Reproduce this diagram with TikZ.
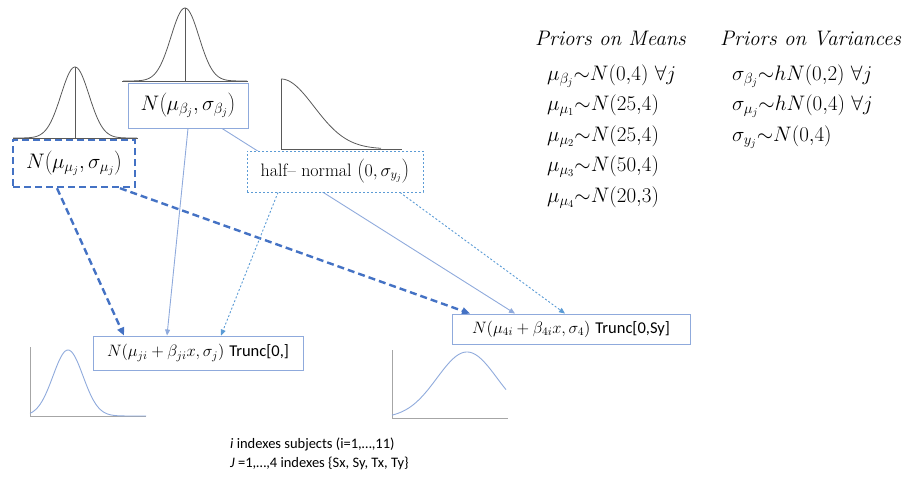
\RequirePackage{fix-cm}
\documentclass[tikz,border=0pt]{standalone}
\usepackage{fontspec}
\newfontfamily\calibri{Carlito}
\usetikzlibrary{arrows.meta,backgrounds}
\definecolor{BoxBlue}{HTML}{8FAADC}
\definecolor{HyperBlue}{HTML}{4472C4}
\definecolor{DotBlue}{HTML}{5B9BD5}
\definecolor{CurveGrey}{HTML}{595959}
\definecolor{AxisGrey}{HTML}{A6A6A6}
\newcommand\boxfont{\fontsize{21}{24}\selectfont}
\newcommand\halffont{\fontsize{18}{20}\selectfont}
\newcommand\likefont{\fontsize{16.5}{18}\selectfont}
\newcommand\priorfont{\fontsize{21}{25}\selectfont}
\newcommand\notefont{\calibri\fontsize{14.5}{18}\selectfont}
\tikzset{
  distbox/.style={
    draw=BoxBlue,
    line width=0.9pt,
    fill=white,
    inner sep=0pt,
    align=center
  },
  hyperbox/.style={
    distbox,
    draw=HyperBlue,
    line width=2.4pt,
    dash pattern=on 7pt off 4pt
  },
  varbox/.style={
    distbox,
    draw=DotBlue,
    dash pattern=on 2pt off 2pt
  },
  density/.style={draw=CurveGrey, line width=0.8pt},
  axisline/.style={draw=CurveGrey, line width=0.9pt},
  likedensity/.style={draw=BoxBlue, line width=0.9pt},
  likeaxis/.style={draw=AxisGrey, line width=1pt},
  prior/.style={anchor=base west, inner sep=0pt, font=\priorfont},
  note/.style={anchor=base west, inner sep=0pt, font=\notefont},
  hyperarrow/.style={
    -{Triangle[length=8pt,width=7pt]},
    draw=HyperBlue,
    line width=2.4pt,
    dash pattern=on 7pt off 4pt
  },
  betaarrow/.style={
    -{Triangle[length=6pt,width=5pt]},
    draw=BoxBlue,
    line width=0.9pt
  },
  sigmaarrow/.style={
    -{Triangle[length=6pt,width=5pt]},
    draw=DotBlue,
    line width=0.9pt,
    dash pattern=on 2pt off 2pt
  }
}

\begin{document}
\begin{tikzpicture}[x=1pt,y=-1pt]
\useasboundingbox (0,0) rectangle (919,485);

\node[distbox, minimum width=120pt, minimum height=45pt, font=\boxfont] (betahyp) at (188,105.5) {$N{\left(\mu_{\beta_j},\sigma_{\beta_j}\right)}$};
\node[hyperbox, minimum width=122pt, minimum height=47pt, font=\boxfont] (muhyp) at (74,163.5) {$N{\left(\mu_{\mu_j},\sigma_{\mu_j}\right)}$};
\node[varbox, minimum width=176pt, minimum height=41pt, font=\halffont] (sigmahyp) at (335,171.5) {half-- normal ${\left(0,\sigma_{y_j}\right)}$};

\node[distbox, minimum width=210pt, minimum height=34pt, font=\likefont] (likeleft) at (198,353) {$N{\left(\mu_{ji}+\beta_{ji}x,\sigma_j\right)}$ {\calibri Trunc[0,]}};
\node[distbox, minimum width=238pt, minimum height=30pt, font=\likefont] (likeright) at (571,329) {$N(\mu_{4i}+\beta_{4i}x,\sigma_4)$ {\calibri Trunc[0,Sy]}};

\draw[axisline] (122,81) -- (248,81);
\draw[axisline] (185,81) -- (185,8);
\draw[density] plot[domain=-62:62, samples=80] ({185+\x},{81-73*exp(-0.5*(\x/14)*(\x/14))});
\draw[axisline] (13,138) -- (138,138);
\draw[axisline] (75,138) -- (75,67);
\draw[density] plot[domain=-62:62, samples=80] ({75+\x},{138-71*exp(-0.5*(\x/14)*(\x/14))});
\draw[axisline] (281,79) -- (281,149) -- (402,149);
\draw[density] plot[domain=0:100, samples=60] ({281+\x},{149-70*exp(-0.5*(\x/33)*(\x/33))});

\draw[likeaxis] (30,347) -- (30,416) -- (146,416);
\draw[likedensity] plot[domain=30:146, samples=80] ({\x},{416-66*exp(-0.5*((\x-68)/15)*((\x-68)/15))});
\draw[likeaxis] (392,350) -- (392,418) -- (508,418);
\draw[likedensity] plot[domain=392:506, samples=80] ({\x},{418-66*exp(-0.5*((\x-467)/30)*((\x-467)/30))});

\begin{scope}[on background layer]
\draw[hyperarrow] ([xshift=-17pt]muhyp.south) -- ([xshift=-74pt]likeleft.north);
\draw[hyperarrow] ([xshift=46pt]muhyp.south) -- ([xshift=-101pt]likeright.north);
\draw[betaarrow] (betahyp.south) -- ([xshift=-31pt]likeleft.north);
\draw[betaarrow] ([xshift=34pt]betahyp.south) -- ([xshift=-56pt]likeright.north);
\draw[sigmaarrow] ([xshift=-57pt]sigmahyp.south) -- ([xshift=23pt]likeleft.north);
\draw[sigmaarrow] ([xshift=65pt]sigmahyp.south) -- ([xshift=-6pt]likeright.north);
\end{scope}

\node[prior] (meanhead) at (535,45) {\itshape Priors on Means};
\node[prior] (varhead) at (720,45) {\itshape Priors on Variances};
\foreach \expr [count=\k] in {{\mu_{\beta_j}{\sim}N(0{,}4)\ \forall j}, {\mu_{\mu_1}{\sim}N(25{,}4)}, {\mu_{\mu_2}{\sim}N(25{,}4)}, {\mu_{\mu_3}{\sim}N(50{,}4)}, {\mu_{\mu_4}{\sim}N(20{,}3)}}
  \node[prior] (mean\k) at (547,{80+30.5*(\k-1)}) {$\expr$};
\foreach \expr [count=\k] in {{\sigma_{\beta_j}{\sim}hN(0{,}2)\ \forall j}, {\sigma_{\mu_j}{\sim}hN(0{,}4)\ \forall j}, {\sigma_{y_j}{\sim}N(0{,}4)}}
  \node[prior] (var\k) at (732,{80+30.5*(\k-1)}) {$\expr$};

\node[note] (subjects) at (230,448) {\itshape i\upshape{} indexes subjects (i=1,…,11)};
\node[note] (groups) at (230,467) {\itshape J\upshape{} =1,…,4 indexes \{Sx, Sy, Tx, Ty\}};
\end{tikzpicture}
\end{document}
